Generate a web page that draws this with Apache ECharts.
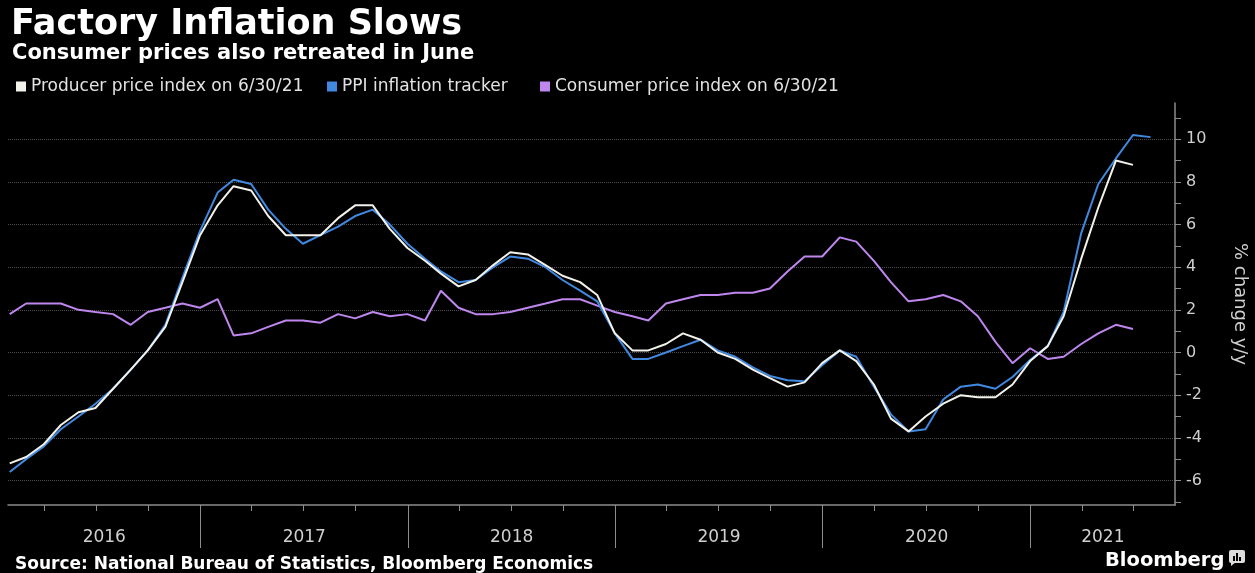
<!DOCTYPE html>
<html>
<head>
<meta charset="utf-8">
<script src="https://cdn.jsdelivr.net/npm/echarts@6/dist/echarts.min.js"></script>
<style>
  html, body { margin: 0; padding: 0; background: #000; }
  #chart { width: 1255px; height: 573px; }
</style>
</head>
<body>
<div id="chart"></div>
<script>
// Monthly readings, year-on-year % change, first month = Jan 2016
const firstYear = 2016;
const firstMonth = 0; // January

// Producer price index (Jan 2016 - Jun 2021)
const ppi = [
  -5.2, -4.9, -4.3, -3.4, -2.8, -2.6, -1.7, -0.8, 0.1, 1.2, 3.3, 5.5,
  6.9, 7.8, 7.6, 6.4, 5.5, 5.5, 5.5, 6.3, 6.9, 6.9, 5.8, 4.9,
  4.3, 3.7, 3.1, 3.4, 4.1, 4.7, 4.6, 4.1, 3.6, 3.3, 2.7, 0.9,
  0.1, 0.1, 0.4, 0.9, 0.6, 0.0, -0.3, -0.8, -1.2, -1.6, -1.4, -0.5,
  0.1, -0.4, -1.5, -3.1, -3.7, -3.0, -2.4, -2.0, -2.1, -2.1, -1.5, -0.4,
  0.3, 1.7, 4.4, 6.8, 9.0, 8.8
];

// PPI inflation tracker (Jan 2016 - Jul 2021)
const tracker = [
  -5.6, -5.0, -4.4, -3.6, -3.0, -2.4, -1.7, -0.8, 0.1, 1.3, 3.5, 5.7,
  7.5, 8.1, 7.9, 6.7, 5.8, 5.1, 5.5, 5.9, 6.4, 6.7, 6.0, 5.1,
  4.4, 3.8, 3.3, 3.4, 4.0, 4.5, 4.4, 4.0, 3.4, 2.9, 2.4, 0.9,
  -0.3, -0.3, 0.0, 0.3, 0.6, 0.1, -0.2, -0.7, -1.1, -1.3, -1.35, -0.6,
  0.1, -0.2, -1.6, -2.9, -3.7, -3.6, -2.2, -1.6, -1.5, -1.7, -1.15, -0.35,
  0.3, 1.9, 5.6, 7.9, 9.1, 10.2, 10.1
];

// Consumer price index (Jan 2016 - Jun 2021)
const cpi = [
  1.8, 2.3, 2.3, 2.3, 2.0, 1.9, 1.8, 1.3, 1.9, 2.1, 2.3, 2.1,
  2.5, 0.8, 0.9, 1.2, 1.5, 1.5, 1.4, 1.8, 1.6, 1.9, 1.7, 1.8,
  1.5, 2.9, 2.1, 1.8, 1.8, 1.9, 2.1, 2.3, 2.5, 2.5, 2.2, 1.9,
  1.7, 1.5, 2.3, 2.5, 2.7, 2.7, 2.8, 2.8, 3.0, 3.8, 4.5, 4.5,
  5.4, 5.2, 4.3, 3.3, 2.4, 2.5, 2.7, 2.4, 1.7, 0.5, -0.5, 0.2,
  -0.3, -0.2, 0.4, 0.9, 1.3, 1.1
];

const seriesNames = [
  'Producer price index on 6/30/21',
  'PPI inflation tracker',
  'Consumer price index on 6/30/21'
];

const years = [2016, 2017, 2018, 2019, 2020, 2021];
const yTickValues = [-7, -6, -5, -4, -3, -2, -1, 0, 1, 2, 3, 4, 5, 6, 7, 8, 9, 10, 11];
const yLabelValues = [-6, -4, -2, 0, 2, 4, 6, 8, 10];
const quarterMonths = [3, 6, 9];

const xMin = Date.UTC(2016, 0, 28);
const xMax = Date.UTC(2021, 8, 12);

// month-end timestamp for the i-th monthly reading
function monthEnd(i) {
  return Date.UTC(firstYear, firstMonth + i + 1, 0);
}
function pairs(values) {
  return values.map((v, i) => [monthEnd(i), v]);
}

const yearStarts = years.map(y => Date.UTC(y, 0, 1)).filter(t => t > xMin && t < xMax);
const quarterTicks = [];
years.forEach(y => quarterMonths.forEach(m => {
  const t = Date.UTC(y, m, 1);
  if (t > xMin && t < xMax) quarterTicks.push(t);
}));
// year labels sit in the middle of each year's visible span
const yearLabelPos = years.map(y => {
  const a = Math.max(Date.UTC(y, 0, 1), xMin);
  const b = Math.min(Date.UTC(y + 1, 0, 1), xMax);
  return (a + b) / 2;
});

const colors = ['#f3f2ea', '#4189e0', '#bf87ee'];
const axisColor = '#8c8c8c';
const labelColor = '#cfcfcf';
const fontFamily = '"DejaVu Sans", Verdana, sans-serif';

const chart = echarts.init(document.getElementById('chart'), null, { renderer: 'canvas' });

const legendLefts = [16, 327, 540];

chart.setOption({
  backgroundColor: '#000',
  animation: false,
  title: [
    {
      text: 'Factory Inflation Slows',
      left: 6, top: 2,
      textStyle: { color: '#ffffff', fontSize: 35, fontWeight: 'bold', fontFamily }
    },
    {
      text: 'Consumer prices also retreated in June',
      left: 7, top: 38,
      textStyle: { color: '#ffffff', fontSize: 21, fontWeight: 'bold', fontFamily }
    },
    {
      text: 'Source: National Bureau of Statistics, Bloomberg Economics',
      left: 10, top: 551,
      textStyle: { color: '#ffffff', fontSize: 17, fontWeight: 'bold', fontFamily }
    },
    {
      text: 'Bloomberg',
      left: 1100, top: 546,
      textStyle: { color: '#ffffff', fontSize: 19.5, fontWeight: 'bold', fontFamily }
    }
  ],
  legend: seriesNames.map((name, i) => ({
    data: [name],
    left: legendLefts[i],
    top: 78,
    icon: 'rect',
    itemWidth: 10,
    itemHeight: 10,
    itemGap: 0,
    padding: 0,
    selectedMode: false,
    textStyle: { color: '#e2e2e2', fontSize: 17, fontFamily }
  })),
  grid: {
    left: 8, right: 80, top: 103, bottom: 68,
    containLabel: false,
    outerBoundsMode: 'none'
  },
  xAxis: [
    {
      type: 'value',
      min: xMin, max: xMax,
      position: 'bottom',
      axisLine: { show: true, onZero: false, lineStyle: { color: axisColor, width: 1.5 } },
      axisTick: { show: true, customValues: quarterTicks, length: 6, lineStyle: { color: axisColor } },
      axisLabel: {
        show: true,
        customValues: yearLabelPos,
        margin: 24,
        color: labelColor,
        fontSize: 17,
        fontFamily,
        formatter: v => String(new Date(v).getUTCFullYear())
      },
      splitLine: { show: false }
    },
    {
      type: 'value',
      min: xMin, max: xMax,
      position: 'bottom',
      offset: 0,
      axisLine: { show: false, onZero: false },
      axisTick: { show: true, customValues: yearStarts, length: 43, lineStyle: { color: axisColor } },
      axisLabel: { show: false },
      splitLine: { show: false }
    }
  ],
  yAxis: {
    type: 'value',
    position: 'right',
    min: -7.15, max: 11.7,
    name: '% change y/y',
    nameLocation: 'middle',
    nameRotate: -90,
    nameGap: 56,
    nameTextStyle: { color: labelColor, fontSize: 18, fontFamily },
    axisLine: { show: true, onZero: false, lineStyle: { color: axisColor, width: 1.5 } },
    axisTick: { show: true, customValues: yTickValues, length: 6, lineStyle: { color: axisColor } },
    axisLabel: {
      customValues: yLabelValues,
      margin: 11,
      color: labelColor,
      fontSize: 16,
      fontFamily
    },
    splitLine: {
      show: true,
      lineStyle: { color: ['rgba(0,0,0,0)', '#4c4c4c'], type: 'dotted', width: 1 }
    }
  },
  graphic: [
    {
      type: 'group',
      left: 1229, top: 550,
      children: [
        { type: 'rect', shape: { x: 0, y: 0, width: 16, height: 13, r: 2 }, style: { fill: '#dcdcdc' } },
        { type: 'polygon', shape: { points: [[2, 12], [7, 12], [2, 16]] }, style: { fill: '#dcdcdc' } },
        { type: 'rect', shape: { x: 4, y: 6, width: 2, height: 5 }, style: { fill: '#000' } },
        { type: 'rect', shape: { x: 7, y: 3, width: 2, height: 8 }, style: { fill: '#000' } },
        { type: 'rect', shape: { x: 10, y: 7, width: 2, height: 4 }, style: { fill: '#000' } }
      ]
    }
  ],
  series: [
    {
      name: seriesNames[2], type: 'line', data: pairs(cpi),
      showSymbol: false, z: 2,
      color: colors[2],
      lineStyle: { color: colors[2], width: 2 }
    },
    {
      name: seriesNames[1], type: 'line', data: pairs(tracker),
      showSymbol: false, z: 3,
      color: colors[1],
      lineStyle: { color: colors[1], width: 2 }
    },
    {
      name: seriesNames[0], type: 'line', data: pairs(ppi),
      showSymbol: false, z: 4,
      color: colors[0],
      lineStyle: { color: colors[0], width: 2 }
    }
  ]
});
</script>
</body>
</html>
